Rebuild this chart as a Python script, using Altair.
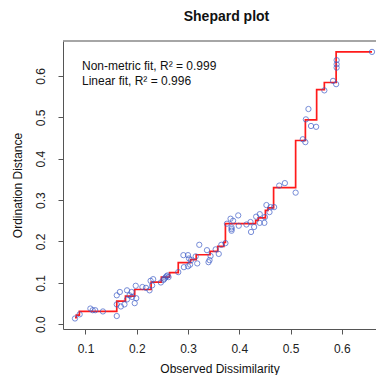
import altair as alt
import pandas as pd

# Observed dissimilarity (x) and ordination distance (y) of the points
obs_x = [0.0795, 0.0886, 0.1095, 0.114, 0.119, 0.134, 0.161, 0.161, 0.161, 0.167,
         0.169, 0.176, 0.181, 0.181, 0.186, 0.190, 0.191, 0.196, 0.198, 0.199,
         0.211, 0.218, 0.225, 0.227, 0.230, 0.232, 0.247, 0.252, 0.254, 0.256,
         0.258, 0.260, 0.262, 0.281, 0.291, 0.292, 0.300, 0.302, 0.300, 0.304,
         0.306, 0.315, 0.318, 0.322, 0.337, 0.340, 0.342, 0.344, 0.354, 0.360,
         0.365, 0.373, 0.376, 0.383, 0.385, 0.385, 0.385, 0.388, 0.398, 0.399,
         0.414, 0.422, 0.423, 0.429, 0.433, 0.440, 0.440, 0.449, 0.450, 0.453,
         0.459, 0.461, 0.468, 0.478, 0.489, 0.510, 0.524, 0.529, 0.530, 0.535,
         0.540, 0.550, 0.566, 0.583, 0.589, 0.590, 0.590, 0.590, 0.659]
obs_y = [0.014, 0.024, 0.038, 0.034, 0.034, 0.031, 0.020, 0.070, 0.048, 0.078,
         0.043, 0.048, 0.082, 0.060, 0.070, 0.078, 0.066, 0.051, 0.093, 0.063,
         0.090, 0.088, 0.082, 0.105, 0.094, 0.109, 0.101, 0.107, 0.110, 0.113,
         0.116, 0.118, 0.114, 0.126, 0.167, 0.138, 0.167, 0.159, 0.140, 0.144,
         0.155, 0.164, 0.147, 0.192, 0.179, 0.150, 0.155, 0.165, 0.181, 0.170,
         0.192, 0.196, 0.243, 0.255, 0.230, 0.226, 0.234, 0.250, 0.263, 0.238,
         0.241, 0.247, 0.223, 0.235, 0.260, 0.266, 0.245, 0.245, 0.259, 0.288,
         0.271, 0.283, 0.283, 0.335, 0.341, 0.318, 0.447, 0.440, 0.495, 0.520,
         0.479, 0.477, 0.565, 0.588, 0.580, 0.638, 0.628, 0.620, 0.658]

# Non-metric (isotonic) fit: level start x and level value
step_x = [0.0795, 0.082, 0.088, 0.161, 0.178, 0.196, 0.228, 0.248, 0.264, 0.281,
          0.305, 0.316, 0.343, 0.358, 0.370, 0.373, 0.432, 0.437, 0.451, 0.456,
          0.467, 0.510, 0.529, 0.551, 0.566, 0.589, 0.659]
step_y = [0.016, 0.022, 0.031, 0.056, 0.068, 0.084, 0.102, 0.114, 0.125, 0.149,
          0.156, 0.168, 0.176, 0.188, 0.198, 0.243, 0.251, 0.257, 0.275, 0.281,
          0.330, 0.444, 0.494, 0.567, 0.584, 0.658, 0.658]

x_ticks = [0.1, 0.2, 0.3, 0.4, 0.5, 0.6]
y_ticks = [0.0, 0.1, 0.2, 0.3, 0.4, 0.5, 0.6]
legend_lines = ["Non-metric fit, R\u00b2 = 0.999", "Linear fit, R\u00b2 = 0.996"]

FONT = "Liberation Sans"
W, H = 313, 288
xdom = [0.0561, 0.6668]
ydom = [-0.0114, 0.6843]

pts = pd.DataFrame({"x": obs_x, "y": obs_y})
stp = pd.DataFrame({"x": step_x, "y": step_y})
leg1 = pd.DataFrame({"label": [legend_lines[0]]})
leg2 = pd.DataFrame({"label": [legend_lines[1]]})

xs = alt.Scale(domain=xdom, nice=False, zero=False)
ys = alt.Scale(domain=ydom, nice=False, zero=False)

xaxis = alt.Axis(values=x_ticks, format=".1f", grid=False, domainColor="#555",
                 tickColor="#555", tickSize=5, labelPadding=9, labelFontSize=12,
                 labelFont=FONT, labelColor="#222", title="Observed Dissimilarity",
                 titleFont=FONT, titleFontSize=12, titleFontWeight="normal",
                 titleColor="#111", titlePadding=9)
yaxis = alt.Axis(values=y_ticks, format=".1f", grid=False, domainColor="#555",
                 tickColor="#555", tickSize=5, labelAngle=-90, labelAlign="center",
                 labelBaseline="bottom", labelPadding=11, labelFontSize=12,
                 labelFont=FONT, labelColor="#222", title="Ordination Distance",
                 titleFont=FONT, titleFontSize=12, titleFontWeight="normal",
                 titleColor="#111", titlePadding=10)

points = alt.Chart(pts).mark_point(shape="circle", filled=False, size=28,
                                    strokeWidth=1, color="#3d5cc8").encode(
    x=alt.X("x:Q", scale=xs, axis=xaxis),
    y=alt.Y("y:Q", scale=ys, axis=yaxis),
)

line = alt.Chart(stp).mark_line(interpolate="step-after", color="#ff1a1a",
                                strokeWidth=1.7).encode(
    x=alt.X("x:Q", scale=xs),
    y=alt.Y("y:Q", scale=ys),
)

topline = alt.Chart(leg1).mark_rule(color="#888", strokeWidth=1.5).encode(
    x=alt.value(0), x2=alt.value(W), y=alt.value(0))

text1 = alt.Chart(leg1).mark_text(align="left", baseline="middle",
                                  font=FONT, fontSize=12, color="#111").encode(
    text="label:N", x=alt.value(19), y=alt.value(25))
text2 = alt.Chart(leg2).mark_text(align="left", baseline="middle",
                                  font=FONT, fontSize=12, color="#111").encode(
    text="label:N", x=alt.value(19), y=alt.value(40))

chart = alt.layer(topline, line, points, text1, text2).properties(
    width=W, height=H,
    title=alt.TitleParams("Shepard plot", font=FONT, fontSize=14, fontWeight="bold",
                          color="#111", anchor="middle", dx=7, offset=16),
    autosize=alt.AutoSizeParams(type="none"),
    padding={"left": 55, "top": 33, "right": 0, "bottom": 46},
).configure_view(stroke=None)

chart.save("out.html", embed_options={"renderer": "svg", "actions": False})
